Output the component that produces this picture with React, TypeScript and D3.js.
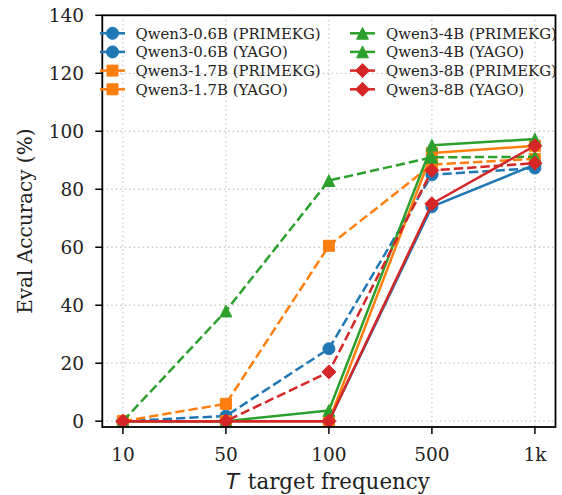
import React from "react";
import * as d3 from "d3";

const categories = ["10", "50", "100", "500", "1k"];
const q06Prime = [0, 0, 0, 74, 88.5];
const q06Yago = [0, 1.8, 25, 85, 87.3];
const q17Prime = [0, 0, 0, 92.5, 95];
const q17Yago = [0, 6, 60.5, 88.5, 90.5];
const q4Prime = [0, 0, 3.7, 95.2, 97.3];
const q4Yago = [0, 38, 83, 91, 91.2];
const q8Prime = [0, 0, 0, 75, 95];
const q8Yago = [0, 0, 17, 86.5, 89];
const yTicks = [0, 20, 40, 60, 80, 100, 120, 140];

type Marker = "circle" | "square" | "triangle" | "diamond";
const series: { name: string; values: number[]; color: string; dashed: boolean; marker: Marker }[] = [
  { name: "Qwen3-0.6B (PRIMEKG)", values: q06Prime, color: "#1f77b4", dashed: false, marker: "circle" },
  { name: "Qwen3-0.6B (YAGO)", values: q06Yago, color: "#1f77b4", dashed: true, marker: "circle" },
  { name: "Qwen3-1.7B (PRIMEKG)", values: q17Prime, color: "#ff7f0e", dashed: false, marker: "square" },
  { name: "Qwen3-1.7B (YAGO)", values: q17Yago, color: "#ff7f0e", dashed: true, marker: "square" },
  { name: "Qwen3-4B (PRIMEKG)", values: q4Prime, color: "#2ca02c", dashed: false, marker: "triangle" },
  { name: "Qwen3-4B (YAGO)", values: q4Yago, color: "#2ca02c", dashed: true, marker: "triangle" },
  { name: "Qwen3-8B (PRIMEKG)", values: q8Prime, color: "#d62728", dashed: false, marker: "diamond" },
  { name: "Qwen3-8B (YAGO)", values: q8Yago, color: "#d62728", dashed: true, marker: "diamond" },
];

const W = 562, H = 495;
const L = 102.3, R = 555.5, T = 15.3, B = 427;
const FONT = "'DejaVu Serif', serif";

function markerPath(m: Marker, cx: number, cy: number): string {
  if (m === "circle") {
    const r = 6;
    return `M${cx - r},${cy}a${r},${r} 0 1,0 ${2 * r},0a${r},${r} 0 1,0 ${-2 * r},0Z`;
  }
  if (m === "square") {
    const s = 5.5;
    return `M${cx - s},${cy - s}H${cx + s}V${cy + s}H${cx - s}Z`;
  }
  if (m === "triangle") {
    const h = 5.9;
    return `M${cx},${cy - h}L${cx + h},${cy + h}L${cx - h},${cy + h}Z`;
  }
  const d = 7;
  return `M${cx},${cy - d}L${cx + d},${cy}L${cx},${cy + d}L${cx - d},${cy}Z`;
}

export default function App() {
  const x = d3.scaleLinear().domain([-0.2, 4.2]).range([L, R]);
  const y = d3.scaleLinear().domain([-2, 140]).range([B, T]);
  const line = d3
    .line<number>()
    .x((_, i) => x(i))
    .y((v) => y(v));
  const lw = 2.5;
  const dash = `${(3.7 * lw).toFixed(1)},${(1.6 * lw).toFixed(1)}`;

  const legendRows = [33.3, 51.9, 70.6, 89.3];
  const legendCols = [
    { hx0: 100, hx1: 125, tx: 135.5 },
    { hx0: 350, hx1: 375, tx: 386 },
  ];

  return (
    <svg width={W} height={H} style={{ display: "block", position: "absolute", left: 0, top: 0 }} fontFamily={FONT}>
      <rect x={0} y={0} width={W} height={H} fill="#fff" />
      {/* grid */}
      <g stroke="#c4c4c4" strokeWidth={1.3} strokeDasharray="1.3,3.2">
        {categories.map((c, i) => (
          <line key={c} x1={x(i)} x2={x(i)} y1={T} y2={B} />
        ))}
        {yTicks.map((t) => (
          <line key={t} x1={L} x2={R} y1={y(t)} y2={y(t)} />
        ))}
      </g>
      {/* series */}
      <g>
        {series.map((s) => (
          <g key={s.name}>
            <path
              d={line(s.values) || ""}
              fill="none"
              stroke={s.color}
              strokeWidth={lw}
              strokeDasharray={s.dashed ? dash : undefined}
              strokeLinejoin="round"
            />
            {s.values.map((v, i) => (
              <path key={i} d={markerPath(s.marker, x(i), y(v))} fill={s.color} stroke={s.color} strokeWidth={1} />
            ))}
          </g>
        ))}
      </g>
      {/* spines */}
      <rect x={L} y={T} width={R - L} height={B - T} fill="none" stroke="#000" strokeWidth={1.8} />
      {/* y ticks */}
      <g>
        {yTicks.map((t) => (
          <g key={t}>
            <line x1={L - 7} x2={L} y1={y(t)} y2={y(t)} stroke="#000" strokeWidth={1.5} />
            <text x={84} y={y(t)} dy="0.36em" textAnchor="end" fontSize={18.5} fill="#222">
              {t}
            </text>
          </g>
        ))}
      </g>
      {/* x ticks */}
      <g>
        {categories.map((c, i) => (
          <g key={c}>
            <line x1={x(i)} x2={x(i)} y1={B} y2={B + 7} stroke="#000" strokeWidth={1.5} />
            <text x={x(i)} y={460.5} textAnchor="middle" fontSize={18.5} fill="#222">
              {c}
            </text>
          </g>
        ))}
      </g>
      {/* axis labels */}
      <text x={(L + R) / 2 - 1} y={488.5} textAnchor="middle" fontSize={21.4} fill="#222">
        <tspan fontStyle="italic" fontFamily="'DejaVu Sans', sans-serif">T</tspan>
        <tspan dx={2}> target frequency</tspan>
      </text>
      <text
        transform={`translate(${32},${(T + B) / 2}) rotate(-90)`}
        textAnchor="middle"
        fontSize={20}
        fill="#222"
      >
        Eval Accuracy (%)
      </text>
      {/* legend */}
      <g>
        {series.map((s, k) => {
          const col = legendCols[Math.floor(k / 4)];
          const ry = legendRows[k % 4];
          const mx = (col.hx0 + col.hx1) / 2;
          return (
            <g key={s.name}>
              <line x1={col.hx0} x2={col.hx1} y1={ry} y2={ry} stroke={s.color} strokeWidth={lw} />
              <path d={markerPath(s.marker, mx, ry)} fill={s.color} stroke={s.color} strokeWidth={1} />
              <text x={col.tx} y={ry} dy="0.36em" fontSize={14.9} fill="#222">
                {s.name}
              </text>
            </g>
          );
        })}
      </g>
    </svg>
  );
}
